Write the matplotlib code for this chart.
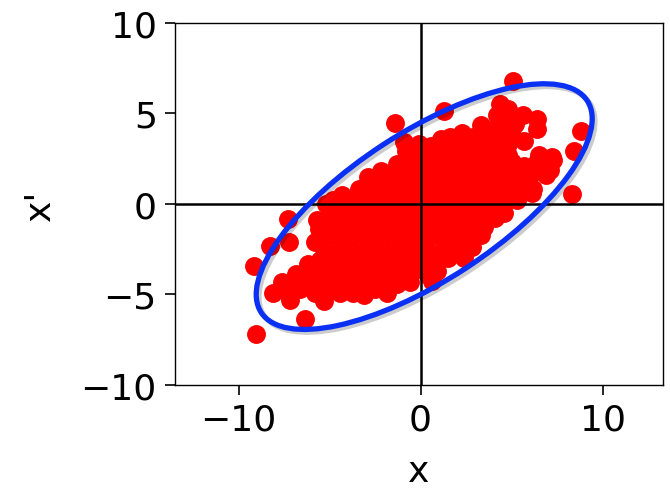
import matplotlib
matplotlib.use('Agg')
import matplotlib.pyplot as plt
import matplotlib.patheffects as pe
from matplotlib.patches import Ellipse

# point cloud (x, x')
xs = [5.1, 4.35, 4.8, 1.3, 5.65, 4.2,
      -1.4, 3.3, 4.6, 5.2, 6.4, 6.4, 3.9, 8.8,
      1.6, 2.3, 1.1, 2.9, 3.6, 4.3, 5.0, 5.7,
      -0.9, -0.1, 0.6, 1.3, 2.0, 2.7, 3.4, 4.1, 4.8,
      -0.8, -0.1, 0.6, 1.3, 2.0, 2.7, 3.4, 4.1, 4.8, 6.5, 7.2, 8.45,
      -1.3, -0.6, 0.1, 0.8, 1.5, 2.2, 2.9, 3.6, 4.3, 5.0, 5.7, 6.4, 7.1, 7.3,
      -2.9, -2.2, -1.6, -0.9, -0.2, 0.5, 1.2, 1.9, 2.6, 3.3, 4.0, 4.7, 5.4, 6.1, 6.9,
      -3.4, -2.8, -2.1, -1.4, -0.7, 0.0, 0.7, 1.4, 2.1, 2.8, 3.5, 4.2, 4.9, 5.6, 6.2,
      -4.8, -4.3, -3.6, -2.9, -2.2, -1.5, -0.8, -0.1, 0.6, 1.3, 2.0, 2.7, 3.4, 4.1, 5.3, 5.5, 6.1, 8.3,
      -5.2, -4.5, -3.8, -3.1, -2.4, -1.7, -1.0, -0.3, 0.4, 1.1, 1.8, 2.5, 3.2, 3.9, 4.6,
      -7.3, -5.7, -5.0, -4.3, -3.6, -2.9, -2.2, -1.5, -0.8, -0.1, 0.6, 1.3, 2.0, 2.7, 3.4, 4.1, 4.6,
      -5.6, -4.9, -4.2, -3.5, -2.8, -2.1, -1.4, -0.7, 0.0, 0.7, 1.4, 2.1, 2.8, 3.5,
      -8.3, -7.25, -5.8, -5.0, -4.3, -3.6, -2.9, -2.2, -1.5, -0.8, -0.1, 0.6, 1.3, 2.0, 2.7, 3.3,
      -5.3, -4.6, -3.9, -3.2, -2.5, -1.8, -1.1, -0.4, 0.3, 1.0, 1.7, 2.4, 2.8,
      -9.15, -6.2, -5.5, -4.8, -4.1, -3.4, -2.7, -2.0, -1.3, -0.6, 0.1, 0.8, 1.5, 2.4,
      -6.85, -6.2, -5.5, -4.8, -4.1, -3.4, -2.7, -2.0, -1.3, -0.7, -0.1, 0.9, 0.4,
      -7.6, -6.9, -6.2, -5.5, -4.8, -4.1, -3.4, -2.7, -2.0, -1.3, -0.6, 0.65,
      -8.1, -7.4, -6.6, -5.8, -5.1, -4.4, -3.7, -3.1, -2.5, -1.85,
      -7.2, -5.3, -6.35, -9.05]
ys = [6.8, 5.5, 5.25, 5.15, 4.9, 4.9,
      4.45, 4.35, 4.5, 4.4, 4.7, 4.15, 4.1, 4.05,
      3.7, 3.9, 3.6, 3.7, 3.8, 3.7, 3.8, 3.5,
      3.4, 3.3, 3.2, 3.2, 3.3, 3.1, 3.3, 3.2, 3.3,
      2.9, 2.7, 2.8, 2.6, 2.8, 2.7, 2.8, 2.6, 2.7, 2.7, 2.6, 2.9,
      2.2, 2.3, 2.1, 2.3, 2.1, 2.3, 2.1, 2.3, 2.1, 2.3, 2.1, 2.3, 1.9, 2.4,
      1.5, 1.8, 1.5, 1.7, 1.5, 1.7, 1.5, 1.7, 1.5, 1.7, 1.5, 1.7, 1.5, 1.7, 1.6,
      0.8, 1.1, 0.9, 1.1, 0.9, 1.1, 0.9, 1.1, 0.9, 1.1, 0.9, 1.1, 0.9, 1.1, 0.8,
      0.2, 0.5, 0.3, 0.5, 0.3, 0.5, 0.3, 0.5, 0.3, 0.5, 0.3, 0.5, 0.3, 0.5, 0.2, 0.6, 0.6, 0.55,
      0.0, -0.2, 0.0, -0.2, 0.0, -0.2, 0.0, -0.2, 0.0, -0.2, 0.0, -0.2, 0.0, -0.2, 0.0,
      -0.83, -0.9, -0.6, -0.8, -0.6, -0.8, -0.6, -0.8, -0.6, -0.8, -0.6, -0.8, -0.6, -0.8, -0.6, -0.8, -0.5,
      -1.4, -1.2, -1.4, -1.2, -1.4, -1.2, -1.4, -1.2, -1.4, -1.2, -1.4, -1.2, -1.4, -1.3,
      -2.3, -2.1, -2.1, -1.8, -2.0, -1.8, -2.0, -1.8, -2.0, -1.8, -2.0, -1.8, -2.0, -1.8, -2.0, -1.7,
      -2.5, -2.7, -2.5, -2.7, -2.5, -2.7, -2.5, -2.7, -2.5, -2.7, -2.5, -2.7, -2.4,
      -3.45, -3.3, -3.1, -3.3, -3.1, -3.3, -3.1, -3.3, -3.1, -3.3, -3.1, -3.2, -3.0, -3.0,
      -3.85, -3.6, -3.8, -3.6, -3.8, -3.6, -3.8, -3.6, -3.8, -3.7, -3.6, -3.7, -3.95,
      -4.3, -4.4, -4.2, -4.4, -4.2, -4.4, -4.2, -4.4, -4.2, -4.4, -4.3, -4.25,
      -4.95, -4.8, -4.7, -4.9, -4.8, -4.9, -4.9, -5.05, -4.7, -4.95,
      -5.3, -5.35, -6.35, -7.18]

# ellipse (center, full width, full height, angle in degrees)
ell_center = (0.2, -0.15)
ell_width = 21.4
ell_height = 8.2
ell_angle = 33.2

fig = plt.figure(figsize=(6.7, 4.89), dpi=100)
ax = fig.add_axes([0.261, 0.211, 0.728, 0.740])

ax.scatter(xs, ys, s=185, color='#ff0000', linewidths=0, zorder=2)
ax.axhline(0, color='black', lw=1.8, zorder=3)
ax.axvline(0, color='black', lw=1.8, zorder=3)

ell = Ellipse(ell_center, ell_width, ell_height, angle=ell_angle,
              fill=False, edgecolor='#0a30f5', lw=3.8, zorder=4,
              path_effects=[pe.SimpleLineShadow(offset=(2, -2), shadow_color='k', alpha=0.2),
                            pe.Normal()])
ax.add_patch(ell)

ax.set_xlim(-13.5, 13.3)
ax.set_ylim(-10, 10)
ax.set_xticks([-10, 0, 10])
ax.set_yticks([-10, -5, 0, 5, 10])
ax.tick_params(labelsize=26, length=7, width=1.2, pad=6)
for sp in ax.spines.values():
    sp.set_linewidth(1.0)

ax.set_xlabel('x', fontsize=26, labelpad=12)
ax.set_ylabel("x'", fontsize=26, labelpad=17)

fig.savefig('out.png', dpi=100)
